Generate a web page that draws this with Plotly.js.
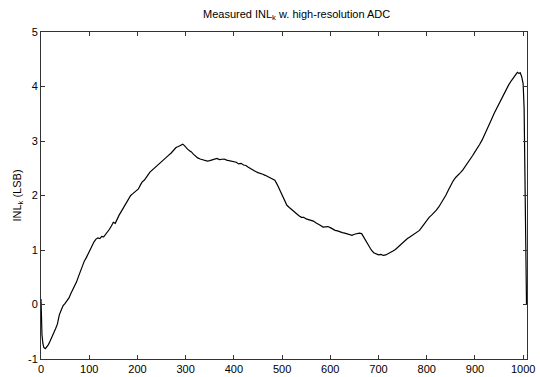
<!DOCTYPE html>
<html>
<head>
<meta charset="utf-8">
<script src="https://cdn.plot.ly/plotly-3.0.1.min.js"></script>
<style>html,body{margin:0;padding:0;background:#fff;}#chart{width:540px;height:377px;}</style>
</head>
<body>
<div id="chart"></div>
<script>
const codeIndex = [0,1,2,4,6,9,12,15,18,22,26,30,34,38,42,46,50,54,58,62,66,70,74,78,82,86,90,94,98,102,106,110,114,118,122,126,130,134,138,142,146,150,154,158,162,166,170,174,178,182,186,190,194,198,202,206,210,214,218,222,226,230,235,240,245,250,255,260,265,270,275,280,285,290,294,297,300,304,308,312,316,320,325,330,335,340,345,350,355,360,365,370,375,380,385,390,395,400,405,410,415,420,425,430,435,440,445,450,455,460,465,470,475,480,485,490,495,500,505,510,515,520,525,530,535,540,545,550,555,560,565,570,575,580,585,590,595,600,605,610,615,620,625,630,635,640,645,650,655,660,665,670,675,680,685,690,695,700,705,710,715,720,725,730,735,740,745,750,755,760,765,770,775,780,785,790,795,800,805,810,815,820,825,830,835,840,845,850,855,860,865,870,875,880,885,890,895,900,905,910,915,920,925,930,935,940,945,950,955,960,965,970,975,980,985,988,991,994,997,1000,1002,1003,1004,1005,1006,1007];
const inlValues = [0.1,-0.3,-0.55,-0.72,-0.79,-0.81,-0.78,-0.74,-0.69,-0.62,-0.53,-0.45,-0.36,-0.19,-0.1,-0.02,0.02,0.06,0.12,0.2,0.27,0.33,0.42,0.52,0.62,0.71,0.8,0.86,0.94,1.01,1.08,1.15,1.2,1.22,1.21,1.25,1.24,1.28,1.33,1.38,1.44,1.51,1.49,1.58,1.64,1.7,1.76,1.84,1.9,1.95,2.0,2.03,2.06,2.09,2.12,2.19,2.25,2.28,2.32,2.38,2.43,2.46,2.5,2.54,2.58,2.62,2.66,2.69,2.74,2.78,2.83,2.88,2.9,2.92,2.94,2.92,2.88,2.85,2.82,2.8,2.76,2.72,2.69,2.67,2.66,2.65,2.63,2.64,2.65,2.67,2.68,2.66,2.67,2.67,2.65,2.64,2.63,2.62,2.61,2.58,2.59,2.56,2.55,2.52,2.49,2.47,2.44,2.42,2.41,2.39,2.37,2.35,2.33,2.31,2.28,2.2,2.1,2.0,1.9,1.82,1.78,1.74,1.71,1.67,1.63,1.6,1.6,1.57,1.56,1.55,1.53,1.5,1.48,1.45,1.42,1.42,1.43,1.41,1.38,1.36,1.35,1.33,1.32,1.31,1.3,1.28,1.27,1.29,1.3,1.31,1.3,1.22,1.14,1.07,1.0,0.95,0.93,0.91,0.92,0.9,0.91,0.93,0.95,0.98,1.01,1.05,1.1,1.14,1.18,1.21,1.24,1.27,1.29,1.32,1.36,1.42,1.48,1.55,1.6,1.64,1.68,1.73,1.79,1.86,1.93,2.01,2.1,2.19,2.27,2.33,2.37,2.42,2.47,2.53,2.59,2.65,2.73,2.8,2.86,2.94,3.02,3.11,3.2,3.3,3.41,3.51,3.6,3.7,3.79,3.88,3.95,4.03,4.1,4.16,4.22,4.26,4.24,4.25,4.18,4.05,3.6,3.0,2.2,1.4,0.8,0.0];
const xTickVals = [0,100,200,300,400,500,600,700,800,900,1000];
const xTickText = ["0","100","200","300","400","500","600","700","800","900","1000"];
const yTickVals = [-1,0,1,2,3,4,5];
const yTickText = ["-1","0","1","2","3","4","5"];

const fontFam = "Liberation Sans, Arial, sans-serif";
const trace = {
  x: codeIndex, y: inlValues, type: 'scatter', mode: 'lines',
  line: {color: '#000', width: 1.2}, hoverinfo: 'skip'
};
const axisCommon = {
  showgrid: false, zeroline: false, showline: true, linecolor: '#333', linewidth: 1,
  ticks: 'inside', ticklen: 4, tickcolor: '#333', mirror: 'ticks',
  tickfont: {family: fontFam, size: 11, color: '#000'}, tickmode: 'array'
};
const layout = {
  width: 540, height: 377,
  margin: {l: 41, r: 13, t: 32, b: 18},
  paper_bgcolor: '#fff', plot_bgcolor: '#fff',
  showlegend: false,
  title: {text: 'Measured INL<sub>k</sub> w. high-resolution ADC', font: {family: fontFam, size: 11, color: '#000'},
          x: 0.526, xanchor: 'center', xref: 'paper', y: 0.962, yanchor: 'middle', yref: 'container'},
  xaxis: Object.assign({}, axisCommon, {range: [0, 1008], tickvals: xTickVals, ticktext: xTickText, ticklabelstandoff: 0}),
  yaxis: Object.assign({}, axisCommon, {range: [-1, 5], tickvals: yTickVals, ticktext: yTickText,
          title: {text: 'INL<sub>k</sub> (LSB)', font: {family: fontFam, size: 11, color: '#000'}, standoff: 4}})
};
Plotly.newPlot('chart', [trace], layout, {staticPlot: true, displayModeBar: false});
</script>
</body>
</html>
